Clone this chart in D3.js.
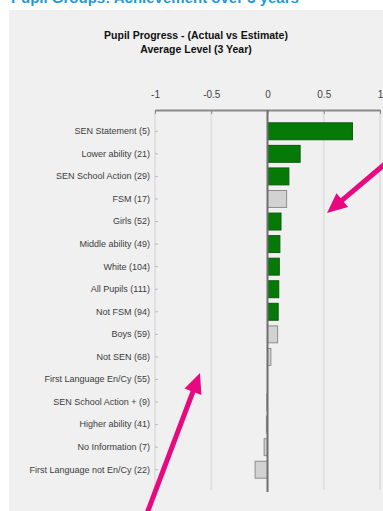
<!DOCTYPE html>
<html>
<head>
<meta charset="utf-8">
<script src="https://cdn.jsdelivr.net/npm/d3@7"></script>
<style>
    body { margin: 0; background: #fff; }
    svg { display: block; font-family: "Liberation Sans", Arial, sans-serif; }
</style>
</head>
<body>
<svg id="chart" width="383" height="511"></svg>
<script>
// pupil groups, top to bottom
let categories = [
    "SEN Statement (5)", "Lower ability (21)", "SEN School Action (29)", "FSM (17)",
    "Girls (52)", "Middle ability (49)", "White (104)", "All Pupils (111)",
    "Not FSM (94)", "Boys (59)", "Not SEN (68)", "First Language En/Cy (55)",
    "SEN School Action + (9)", "Higher ability (41)", "No Information (7)",
    "First Language not En/Cy (22)"
]
let values = [0.755, 0.29, 0.19, 0.17, 0.12, 0.11, 0.105, 0.1, 0.095, 0.09, 0.03, 0.0, -0.005, -0.01, -0.03, -0.11]
// green = significant, grey = not
let significant = [true, true, true, false, true, true, true, true, true, false, false, false, false, false, false, false]
let tickValues = [-1, -0.5, 0, 0.5, 1]

let svg = d3.select("#chart")

// slide heading, cut off at top of the screenshot
svg.append("text")
    .attr("x", 11).attr("y", 3)
    .attr("fill", "#1b9bd7")
    .attr("font-size", "15px")
    .attr("font-weight", "bold")
    .text("Pupil Groups: Achievement over 3 years")

// grey chart panel
svg.append("rect")
    .attr("x", 9).attr("y", 10)
    .attr("width", 380).attr("height", 510)
    .attr("fill", "#f0f0f0")

svg.append("text")
    .attr("x", 196).attr("y", 39)
    .attr("text-anchor", "middle")
    .attr("font-size", "10.5px").attr("font-weight", "bold").attr("fill", "#111")
    .text("Pupil Progress - (Actual vs Estimate)")
svg.append("text")
    .attr("x", 196).attr("y", 53)
    .attr("text-anchor", "middle")
    .attr("font-size", "10.5px").attr("font-weight", "bold").attr("fill", "#111")
    .text("Average Level (3 Year)")

let x = d3.scaleLinear().domain([-1, 1]).range([155, 380])
let y = d3.scaleBand().domain(categories).range([120, 481]).paddingInner(0.25).paddingOuter(0.125)

// gridlines
svg.append("g")
    .selectAll("line")
    .data(tickValues.filter((d) => d != 0))
    .enter()
    .append("line")
    .attr("x1", (d) => x(d)).attr("x2", (d) => x(d))
    .attr("y1", 110).attr("y2", 490)
    .attr("stroke", "#e1e1e1")
    .attr("stroke-width", 2)

// top axis
let topAxis = svg.append("g")
    .attr("transform", "translate(0,110)")
    .call(d3.axisTop(x).tickValues(tickValues).tickFormat((d) => d).tickSizeInner(-4).tickSizeOuter(0).tickPadding(12))
topAxis.select(".domain").attr("stroke", "#8a8a8a").attr("stroke-width", 2)
topAxis.selectAll(".tick line").attr("stroke", "#8a8a8a")
topAxis.selectAll(".tick text").attr("font-size", "10px").attr("fill", "#444")

// category axis
let leftAxis = svg.append("g")
    .attr("transform", "translate(158,0)")
    .call(d3.axisLeft(y).tickSize(3).tickPadding(5))
leftAxis.select(".domain").remove()
leftAxis.selectAll(".tick line").attr("stroke", "#bbb")
leftAxis.selectAll(".tick text").attr("font-size", "9px").attr("fill", "#3c3c3c")

// bars
svg.append("g")
    .selectAll("rect")
    .data(categories)
    .enter()
    .append("rect")
    .attr("x", (d, i) => x(Math.min(0, values[i])))
    .attr("y", (d) => y(d))
    .attr("width", (d, i) => Math.abs(x(values[i]) - x(0)))
    .attr("height", y.bandwidth())
    .attr("fill", (d, i) => significant[i] ? "#067a06" : "#d2d2d2")
    .attr("stroke", (d, i) => significant[i] ? "#0a5a0a" : "#8c8c8c")
    .attr("stroke-width", 1)

// zero line
svg.append("line")
    .attr("x1", x(0)).attr("x2", x(0))
    .attr("y1", 110).attr("y2", 492)
    .attr("stroke", "#6f6f6f")
    .attr("stroke-width", 2)

// pink annotation arrows
function arrow(from, to) {
    let dx = to[0] - from[0], dy = to[1] - from[1]
    let len = Math.sqrt(dx * dx + dy * dy)
    let ux = dx / len, uy = dy / len
    let headLen = 20, headW = 9
    let base = [to[0] - ux * headLen, to[1] - uy * headLen]
    svg.append("line")
        .attr("x1", from[0]).attr("y1", from[1])
        .attr("x2", base[0] + ux * 2).attr("y2", base[1] + uy * 2)
        .attr("stroke", "#e8087f")
        .attr("stroke-width", 5)
    svg.append("path")
        .attr("d", d3.line()([
            to,
            [base[0] - uy * headW, base[1] + ux * headW],
            [base[0] + uy * headW, base[1] - ux * headW]
        ]) + "Z")
        .attr("fill", "#e8087f")
}
arrow([392, 158], [327, 213])
arrow([146, 516], [200, 373])
</script>
</body>
</html>
